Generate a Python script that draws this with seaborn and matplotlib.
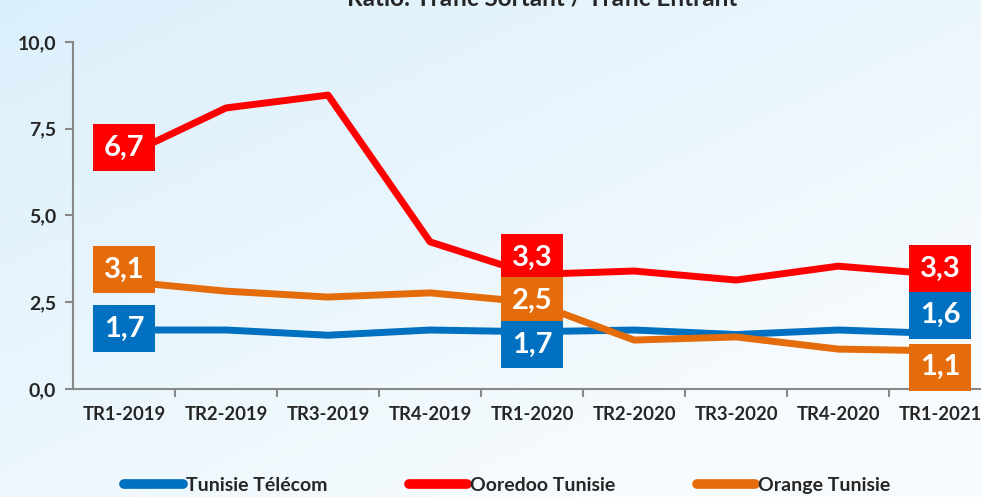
import numpy as np
import pandas as pd
import matplotlib.pyplot as plt
import matplotlib.ticker as mticker
import seaborn as sns

# -----------------------------------------------------------------------------
# Data
# -----------------------------------------------------------------------------
quarters = ["TR1-2019", "TR2-2019", "TR3-2019", "TR4-2019", "TR1-2020",
            "TR2-2020", "TR3-2020", "TR4-2020", "TR1-2021"]
tt = [1.7, 1.7, 1.55, 1.7, 1.65, 1.7, 1.57, 1.7, 1.6]
ooredoo = [6.7, 8.1, 8.47, 4.24, 3.3, 3.4, 3.14, 3.54, 3.3]
orange = [3.1, 2.82, 2.65, 2.77, 2.5, 1.41, 1.5, 1.15, 1.1]
operators = ["Tunisie Télécom", "Ooredoo Tunisie", "Orange Tunisie"]
colors = ["#0070C0", "#FF0000", "#E46C0A"]

# labelled points: (operator index, quarter index, label, box centre)
labels = [
    (1, 0, "6,7", 6.95), (2, 0, "3,1", 3.43), (0, 0, "1,7", 1.73),
    (1, 4, "3,3", 3.78), (2, 4, "2,5", 2.54), (0, 4, "1,7", 1.27),
    (1, 8, "3,3", 3.46), (0, 8, "1,6", 2.13), (2, 8, "1,1", 0.63),
]

df = pd.DataFrame({
    "quarter": quarters * 3,
    "ratio": tt + ooredoo + orange,
    "operator": np.repeat(operators, len(quarters)),
})

# -----------------------------------------------------------------------------
# Plot
# -----------------------------------------------------------------------------
sns.set_theme(style="ticks")
plt.rcParams["font.family"] = ["Lato", "DejaVu Sans"]

fig = plt.figure(figsize=(9.81, 4.97), dpi=100)

# soft blue gradient background
bg = fig.add_axes([0, 0, 1, 1], zorder=-10)
gx, gy = np.meshgrid(np.linspace(0, 1, 200), np.linspace(0, 1, 100))
g = np.clip(0.55 * gx + 0.6 * gy, 0, 1)
c0 = np.array([0.86, 0.94, 0.985])
c1 = np.array([0.975, 0.988, 0.995])
img = c0[None, None, :] * (1 - g[..., None]) + c1[None, None, :] * g[..., None]
bg.imshow(img, aspect="auto", extent=[0, 1, 0, 1])
bg.axis("off")

ax = fig.add_axes([0.0744, 0.2173, 0.936, 0.6982])
ax.patch.set_alpha(0)

sns.lineplot(data=df, x="quarter", y="ratio", hue="operator", hue_order=operators,
             palette=colors, lw=5, sort=False, ax=ax, legend=True)

for op_i, q_i, txt, yc in labels:
    ax.text(q_i, yc, txt, ha="center", va="center", color="white",
            fontsize=21, fontweight="bold", zorder=5,
            bbox=dict(boxstyle="square,pad=0.36", fc=colors[op_i], ec="none"))

ax.set_xlim(-0.5, 8.5)
ax.set_ylim(0, 10)
ax.set_yticks([0, 2.5, 5, 7.5, 10])
ax.yaxis.set_major_formatter(mticker.FuncFormatter(lambda v, p: f"{v:.1f}".replace(".", ",")))
ax.set_xticks(range(len(quarters)))
ax.set_xticklabels(quarters)
ax.set_xticks(np.arange(0.5, 8, 1), minor=True)
ax.tick_params(axis="x", which="major", length=0, pad=12)
ax.tick_params(axis="x", which="minor", length=6, width=1.5, color="#888888")
ax.tick_params(axis="y", length=6, width=1.5, color="#888888", pad=6)
for lab in ax.get_yticklabels():
    lab.set_fontweight("bold")
    lab.set_fontsize(14)
for lab in ax.get_xticklabels():
    lab.set_fontweight("bold")
    lab.set_fontsize(13.3)
ax.set_xlabel("")
ax.set_ylabel("")
sns.despine(ax=ax)
for s in ["left", "bottom"]:
    ax.spines[s].set_color("#888888")
    ax.spines[s].set_linewidth(1.5)

leg = ax.legend(loc="center", bbox_to_anchor=(0.473, -0.277), ncol=3, frameon=False,
                handlelength=3.0, handletextpad=0.15, columnspacing=4.2,
                prop={"weight": "bold", "size": 14})
for h in leg.get_lines():
    h.set_linewidth(7)
    h.set_solid_capstyle("round")

fig.text(0.553, 1 - 5 / 497, "Ratio: Trafic Sortant / Trafic Entrant", ha="center",
         va="baseline", fontsize=17.5, fontweight="bold")

plt.savefig("out.png", dpi=100)
